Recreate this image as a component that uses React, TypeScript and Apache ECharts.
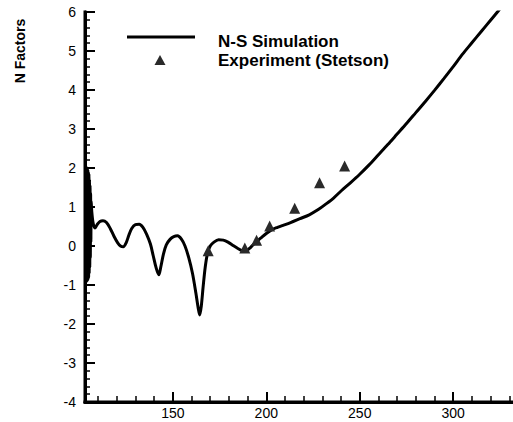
import React, { useEffect, useRef } from "react";
import * as echarts from "echarts";

// N-S simulation: dense oscillation near the leading edge, then the smooth N-factor curve
const simX: number[] = [
  103.6, 103.75, 103.9, 104.05, 104.2, 104.35, 104.5, 104.65, 104.8, 104.95,
  105.1, 105.25, 105.4, 105.55, 105.7, 105.85, 106.0, 106.15, 106.3, 106.6,
  107.3, 108.3, 109.5, 111, 112.6, 114.5, 116.5, 118.5, 120.5, 122,
  123.5, 125, 126.5, 128, 130, 132, 134, 136, 138, 139.5,
  141, 142.5, 143.5, 145, 146.5, 148.5, 150.5, 152.5, 154.5, 156.5,
  158.5, 160.5, 162.3, 163.6, 164.4, 165.2, 166.2, 167.3, 168.5, 170,
  172, 174.5, 177, 179.5, 182, 185, 188, 189.5, 191.5, 194,
  197, 200, 203, 206, 209, 213, 218, 223, 228, 232,
  236, 240, 245, 250, 255, 260, 265, 270, 275, 280,
  285, 290, 295, 300, 305, 310, 315, 320, 324, 327,
];
const simY: number[] = [
  1.95, -0.85, 1.98, -0.9, 2.0, -0.88, 1.96, -0.86, 1.9, -0.8,
  1.85, -0.7, 1.7, -0.55, 1.55, -0.3, 1.35, 0.1, 1.15, 0.9,
  0.6, 0.46, 0.55, 0.63, 0.65, 0.6, 0.45, 0.25, 0.08, 0.0,
  -0.02, 0.08, 0.28, 0.45, 0.55, 0.56, 0.48, 0.3, 0.05, -0.25,
  -0.55, -0.74, -0.55, -0.2, 0.03, 0.17, 0.24, 0.26, 0.18, 0.0,
  -0.3, -0.7, -1.2, -1.6, -1.77, -1.55, -1.05, -0.55, -0.2, 0.0,
  0.1, 0.16, 0.15, 0.1, 0.02, -0.07, -0.14, -0.12, -0.04, 0.08,
  0.2, 0.32, 0.42, 0.48, 0.53, 0.6, 0.7, 0.8, 0.94, 1.08,
  1.23, 1.41, 1.62, 1.84, 2.08, 2.34, 2.6, 2.87, 3.14, 3.42,
  3.7, 3.99, 4.29, 4.6, 4.92, 5.21, 5.5, 5.79, 6.02, 6.2,
];

// Stetson experiment
const expX: number[] = [168.9, 188.5, 194.8, 201.8, 215.2, 228.5, 241.9];
const expY: number[] = [-0.12, -0.05, 0.15, 0.51, 0.97, 1.62, 2.05];

const X_MIN = 103;
const X_MAX = 332;
const Y_MIN = -4;
const Y_MAX = 6;

const xMajor: number[] = [150, 200, 250, 300];
const xMinor: number[] = [
  110, 120, 130, 140, 160, 170, 180, 190, 210, 220, 230, 240,
  260, 270, 280, 290, 310, 320, 330,
];

const seriesNames = ["N-S Simulation", "Experiment (Stetson)"];
const yTitle = "N Factors";

const FONT = "'Liberation Sans', Arial, Helvetica, sans-serif";

export default function App() {
  const ref = useRef<HTMLDivElement>(null);

  useEffect(() => {
    if (!ref.current) return;
    const chart = echarts.init(ref.current, null, { renderer: "svg" });

    const sim = simX.map((x, i) => [x, simY[i]]);
    const exp = expX.map((x, i) => [x, expY[i]]);

    const labelGraphics: any[] = [
      {
        type: "text",
        x: 20,
        y: 51,
        rotation: Math.PI / 2,
        style: {
          text: yTitle,
          fill: "#000",
          font: `bold 14px ${FONT}`,
          align: "center",
          verticalAlign: "middle",
        },
      },
      {
        type: "line",
        shape: { x1: 127, y1: 37, x2: 195, y2: 37 },
        style: { stroke: "#000", lineWidth: 3 },
      },
      {
        type: "polygon",
        shape: { points: [[160, 55], [154.5, 65], [165.5, 65]] },
        style: { fill: "#2a2a2a" },
      },
      {
        type: "text",
        x: 218,
        y: 41.5,
        style: {
          text: seriesNames[0],
          fill: "#000",
          font: `bold 17px ${FONT}`,
          align: "left",
          verticalAlign: "middle",
        },
      },
      {
        type: "text",
        x: 218,
        y: 60,
        style: {
          text: seriesNames[1],
          fill: "#000",
          font: `bold 17px ${FONT}`,
          align: "left",
          verticalAlign: "middle",
        },
      },
    ];

    chart.setOption({
      animation: false,
      grid: { left: 85, right: 0, top: 12, bottom: 20 },
      xAxis: [
        {
          type: "value",
          min: X_MIN,
          max: X_MAX,
          position: "bottom",
          splitLine: { show: false },
          axisLine: { show: true, onZero: false, lineStyle: { color: "#000", width: 3 } },
          axisTick: {
            show: true,
            inside: true,
            length: 10,
            customValues: xMajor,
            lineStyle: { color: "#000", width: 2 },
          },
          axisLabel: {
            show: true,
            customValues: xMajor,
            margin: 4,
            color: "#000",
            fontSize: 14,
            fontFamily: FONT,
          },
        },
        {
          type: "value",
          min: X_MIN,
          max: X_MAX,
          position: "bottom",
          splitLine: { show: false },
          axisLine: { show: false, onZero: false },
          axisTick: {
            show: true,
            inside: true,
            length: 6,
            customValues: xMinor,
            lineStyle: { color: "#000", width: 1.5 },
          },
          axisLabel: { show: false },
        },
      ],
      yAxis: {
        type: "value",
        min: Y_MIN,
        max: Y_MAX,
        interval: 1,
        splitLine: { show: false },
        axisLine: { show: true, lineStyle: { color: "#000", width: 3 } },
        axisTick: { show: true, inside: true, length: 10, lineStyle: { color: "#000", width: 2 } },
        minorTick: { show: true, splitNumber: 5, length: 5, lineStyle: { color: "#000", width: 1.5 } },
        axisLabel: { margin: 9, color: "#000", fontSize: 14, fontFamily: FONT },
      },
      series: [
        {
          name: seriesNames[0],
          type: "line",
          xAxisIndex: 0,
          data: sim,
          showSymbol: false,
          smooth: 0.3,
          clip: true,
          lineStyle: { color: "#000", width: 3 },
          z: 2,
        },
        {
          name: seriesNames[1],
          type: "scatter",
          xAxisIndex: 0,
          data: exp,
          symbol: "triangle",
          symbolSize: 11,
          itemStyle: { color: "#2a2a2a", opacity: 1 },
          z: 3,
        },
      ],
      graphic: labelGraphics,
    });

    // Heavy left/bottom axis bars, placed at the axis extents
    const finder = { xAxisIndex: 0, yAxisIndex: 0 };
    const lo = chart.convertToPixel(finder, [X_MIN, Y_MIN]) as number[];
    const hi = chart.convertToPixel(finder, [X_MAX, Y_MAX]) as number[];
    const left = Math.round(lo[0]);
    const bottom = Math.round(lo[1]);
    const top = Math.round(hi[1]);
    const right = Math.round(hi[0]);
    chart.setOption({
      graphic: [
        ...labelGraphics,
        {
          type: "rect",
          z: 100,
          shape: { x: left - 1.5, y: top - 1.5, width: 3, height: bottom - top + 3 },
          style: { fill: "#000" },
        },
        {
          type: "rect",
          z: 100,
          shape: { x: left - 1.5, y: bottom - 1.5, width: right - left + 4, height: 3 },
          style: { fill: "#000" },
        },
      ],
    });

    return () => chart.dispose();
  }, []);

  return <div ref={ref} style={{ width: 513, height: 422, position: "absolute", left: 0, top: 0 }} />;
}
